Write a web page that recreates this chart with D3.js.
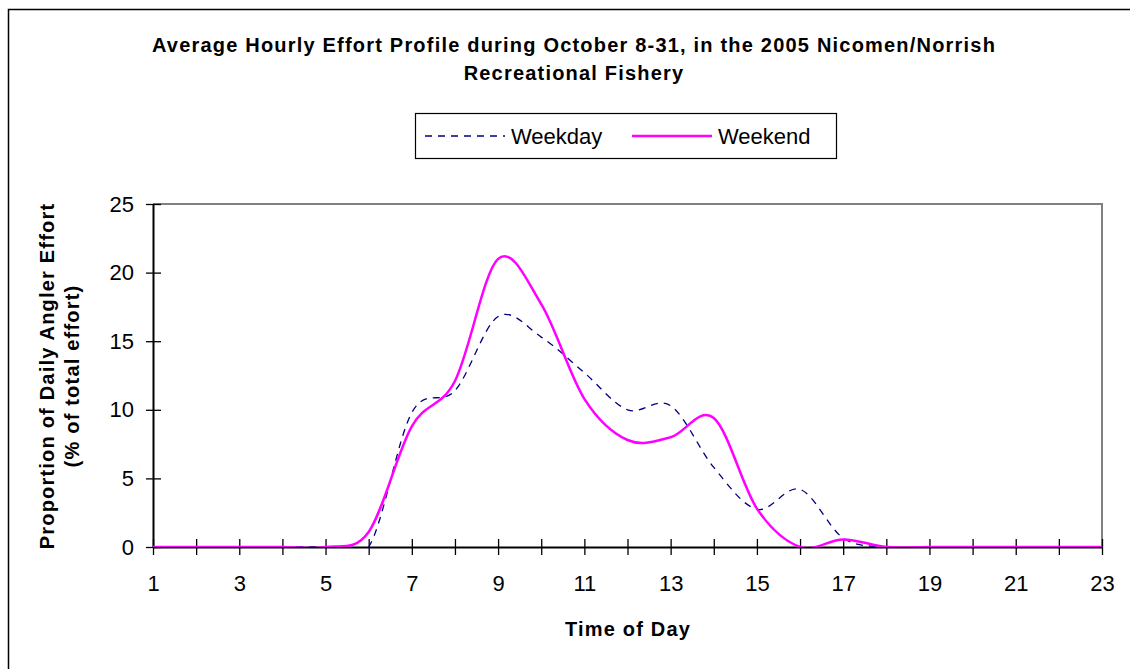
<!DOCTYPE html>
<html>
<head>
<meta charset="utf-8">
<script src="https://cdn.jsdelivr.net/npm/d3@7"></script>
<style>
  body { margin: 0; background: #fff; }
  text { font-family: "Liberation Sans", Arial, sans-serif; fill: #000; }
</style>
</head>
<body>
<svg id="chart" width="1130" height="669"></svg>
<script>
"use strict";

// hour of day, 1..23
var hours = d3.range(1, 24);
var weekday = [0, 0, 0, 0, 0, 0, 9.8, 11.4, 16.8, 15.3, 12.7, 10.0, 10.3, 5.8, 2.75, 4.2, 0.65, 0, 0, 0, 0, 0, 0];
var weekend = [0, 0, 0, 0, 0, 1.1, 8.8, 12.1, 21.0, 17.7, 10.8, 7.8, 8.0, 9.4, 2.8, 0, 0.55, 0, 0, 0, 0, 0, 0];
var yTicks = [0, 5, 10, 15, 20, 25];
var xLabels = [1, 3, 5, 7, 9, 11, 13, 15, 17, 19, 21, 23];

var titleLines = ["Average Hourly Effort Profile during October 8-31, in the 2005 Nicomen/Norrish",
                  "Recreational Fishery"];
var yTitleLines = ["Proportion of Daily Angler Effort", "(% of total effort)"];

var svg = d3.select("#chart");

var plot = { left: 153, right: 1102, top: 204, bottom: 547 };

var x = d3.scaleLinear().domain([1, 23]).range([plot.left, plot.right]);
var y = d3.scaleLinear().domain([0, 25]).range([plot.bottom, plot.top]);

// outer chart frame (runs off the right and bottom edges)
svg.append("rect")
    .attr("x", 8.5).attr("y", 9.5)
    .attr("width", 1140).attr("height", 680)
    .attr("fill", "none")
    .attr("stroke", "#000")
    .attr("stroke-width", 1.5);

// plot area border, top and right in grey
svg.append("path")
    .attr("d", "M" + plot.left + "," + plot.top + "H" + plot.right + "V" + plot.bottom)
    .attr("fill", "none")
    .attr("stroke", "#808080")
    .attr("stroke-width", 2);

// bold labels share one look
function boldLabel(sel) {
    sel.attr("font-size", 20)
        .attr("font-weight", "bold")
        .attr("letter-spacing", 1.2);
}

// title
svg.append("g").selectAll("text")
    .data(titleLines)
    .join("text")
    .attr("x", 574)
    .attr("y", function(d, i) { return 52 + i * 28; })
    .attr("text-anchor", "middle")
    .call(boldLabel)
    .text(function(d) { return d; });

// y axis
var yAxis = d3.axisLeft(y)
    .tickValues(yTicks)
    .tickSizeInner(7)
    .tickSizeOuter(0)
    .tickPadding(12);
var gy = svg.append("g")
    .attr("transform", "translate(" + plot.left + ",0)")
    .call(yAxis);
gy.select(".domain").attr("stroke", "#000").attr("stroke-width", 2);
gy.selectAll(".tick line").attr("x2", -7).attr("x1", 8).attr("stroke", "#000").attr("stroke-width", 1.3);
gy.selectAll(".tick text").attr("font-size", 22).attr("font-family", "Liberation Sans, Arial, sans-serif");

// x axis: a tick every hour, labels on odd hours
var xAxis = d3.axisBottom(x)
    .tickValues(hours)
    .tickSizeInner(8)
    .tickSizeOuter(0)
    .tickPadding(20)
    .tickFormat(function(d) { return xLabels.indexOf(d) >= 0 ? d : ""; });
var gx = svg.append("g")
    .attr("transform", "translate(0," + plot.bottom + ")")
    .call(xAxis);
gx.select(".domain").attr("stroke", "#000").attr("stroke-width", 2);
gx.selectAll(".tick line").attr("y1", -8).attr("y2", 8).attr("stroke", "#000").attr("stroke-width", 1.3);
gx.selectAll(".tick text").attr("font-size", 22).attr("font-family", "Liberation Sans, Arial, sans-serif");

// axis titles
svg.append("text")
    .attr("x", 628)
    .attr("y", 636)
    .attr("text-anchor", "middle")
    .call(boldLabel)
    .text("Time of Day");

svg.append("g")
    .attr("transform", "translate(54,376) rotate(-90)")
    .selectAll("text")
    .data(yTitleLines)
    .join("text")
    .attr("x", 0)
    .attr("y", function(d, i) { return i * 25; })
    .attr("text-anchor", "middle")
    .call(boldLabel)
    .text(function(d) { return d; });

// lines, clipped to the plot area
svg.append("clipPath")
    .attr("id", "plotClip")
    .append("rect")
    .attr("x", plot.left).attr("y", plot.top - 2)
    .attr("width", plot.right - plot.left)
    .attr("height", plot.bottom - plot.top + 2);

var lineMaker = d3.line()
    .curve(d3.curveCatmullRom.alpha(0))
    .x(function(d, i) { return x(hours[i]); })
    .y(function(d) { return y(d); });

var lines = svg.append("g").attr("clip-path", "url(#plotClip)");
lines.append("path")
    .datum(weekday)
    .attr("d", lineMaker)
    .attr("fill", "none")
    .attr("stroke", "#000080")
    .attr("stroke-width", 1.3)
    .attr("stroke-dasharray", "7,6");
lines.append("path")
    .datum(weekend)
    .attr("d", lineMaker)
    .attr("fill", "none")
    .attr("stroke", "#FF00FF")
    .attr("stroke-width", 2.5);

// legend
var legend = svg.append("g");
legend.append("rect")
    .attr("x", 415.5).attr("y", 113.5)
    .attr("width", 421).attr("height", 45)
    .attr("fill", "#fff")
    .attr("stroke", "#000")
    .attr("stroke-width", 1.2);
var legendItems = [
    { name: "Weekday", color: "#000080", dash: "7,6", width: 1.3, x0: 425 },
    { name: "Weekend", color: "#FF00FF", dash: null, width: 2.5, x0: 632 }
];
legendItems.forEach(function(item) {
    legend.append("line")
        .attr("x1", item.x0).attr("x2", item.x0 + 80)
        .attr("y1", 136).attr("y2", 136)
        .attr("stroke", item.color)
        .attr("stroke-width", item.width)
        .attr("stroke-dasharray", item.dash);
    legend.append("text")
        .attr("x", item.x0 + 86)
        .attr("y", 144)
        .attr("font-size", 22)
        .text(item.name);
});
</script>
</body>
</html>
